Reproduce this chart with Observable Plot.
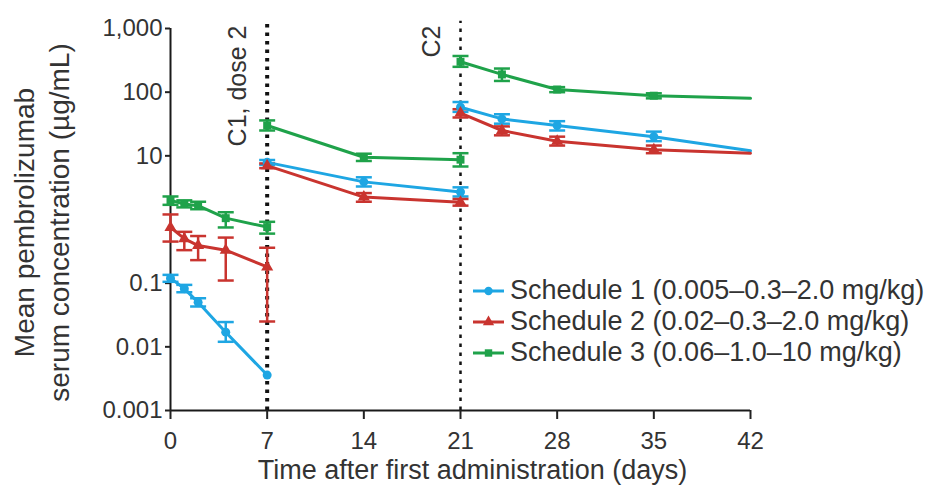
<!DOCTYPE html>
<html><head><meta charset="utf-8">
<script src="https://cdn.jsdelivr.net/npm/d3@7"></script>
<script src="https://cdn.jsdelivr.net/npm/@observablehq/plot@0.6"></script>
<style>
html,body{margin:0;padding:0;background:#fff;}
#wrap{position:relative;width:939px;height:495px;font-family:"Liberation Sans",Arial,sans-serif;}
#legend{position:absolute;left:472px;top:275px;}
.row{display:flex;align-items:center;height:31px;font-size:27px;color:#333;white-space:nowrap;}
.row svg{margin-right:5px;}
</style></head><body><div id="wrap"><div id="legend"></div></div>
<script>
// ---- data ----
const days    = [0, 1, 2, 4, 7,   7, 14, 21,   21, 24, 28, 35, 42];
const segment = [1, 1, 1, 1, 1,   2, 2, 2,     3, 3, 3, 3, 3];

const seriesNames = [
  "Schedule 1 (0.005–0.3–2.0 mg/kg)",
  "Schedule 2 (0.02–0.3–2.0 mg/kg)",
  "Schedule 3 (0.06–1.0–10 mg/kg)"
];

const s1Mean = [0.12, 0.082, 0.050, 0.017, 0.0036,   7.9, 3.9, 2.7,   58, 38, 30, 20, 12];
const s1Lo   = [0.105, 0.072, 0.043, 0.012, null,    7.2, 3.3, 2.3,   49, 32, 25, 17, null];
const s1Hi   = [0.135, 0.094, 0.058, 0.0245, null,   8.6, 4.6, 3.2,   70, 45, 35, 24, null];

const s2Mean = [0.75, 0.50, 0.39, 0.33, 0.18,   7.0, 2.25, 1.87,   47, 25, 17, 12.5, 11];
const s2Lo   = [0.45, 0.33, 0.23, 0.11, 0.025,  6.4, 1.9, 1.65,    40, 21, 14.5, 11, null];
const s2Hi   = [1.2, 0.64, 0.55, 0.52, 0.36,    7.6, 2.6, 2.1,     54, 29, 20, 14.5, null];

const s3Mean = [2.0, 1.75, 1.65, 1.05, 0.76,   30, 9.5, 8.7,   300, 190, 110, 88, 80];
const s3Lo   = [1.7, 1.55, 1.45, 0.75, 0.6,    25, 8.3, 6.8,   250, 150, 100, 80, null];
const s3Hi   = [2.3, 2.0, 1.9, 1.3, 0.92,      36, 10.8, 11,   370, 235, 120, 96, null];

const xTicks = [0, 7, 14, 21, 28, 35, 42];
const yTicks = [0.001, 0.01, 0.1, 10, 100, 1000];
const yTickLabels = ["0.001", "0.01", "0.1", "10", "100", "1,000"];
const doseDays = [7, 21];
const doseLabels = ["C1, dose 2", "C2"];
const xTitle = "Time after first administration (days)";
const yTitle = "Mean pembrolizumab\nserum concentration (µg/mL)";

const colors = ["#1ea6e3", "#c9342f", "#1fa24a"];
const symbols = ["circle", "triangle", "square"];

// ---- build table ----
const rows = [];
[[s1Mean, s1Lo, s1Hi], [s2Mean, s2Lo, s2Hi], [s3Mean, s3Lo, s3Hi]].forEach(([m, lo, hi], k) => {
  days.forEach((d, i) => rows.push({series: seriesNames[k], day: d, seg: segment[i], mean: m[i], lo: lo[i], hi: hi[i]}));
});
const errRows = rows.filter(d => d.lo != null);
const markRows = rows.filter(d => d.day < 42);
const annots = doseDays.map((d, i) => ({day: d, label: doseLabels[i]}));

const capSymbol = {draw(ctx, size) { const w = Math.sqrt(size / Math.PI); ctx.moveTo(-w, 0); ctx.lineTo(w, 0); }};

const font = "Liberation Sans, Arial, sans-serif";
const chart = Plot.plot({
  width: 939, height: 495,
  marginLeft: 170, marginRight: 189, marginTop: 28, marginBottom: 85,
  style: {fontFamily: font, fontSize: "24px", color: "#222", background: "#fff"},
  x: {domain: [0, 42]},
  y: {type: "log", domain: [0.001, 1000]},
  color: {domain: seriesNames, range: colors},
  symbol: {domain: seriesNames, range: symbols},
  marks: [
    Plot.ruleX([doseDays[0]], {y1: 0.001, y2: 1300, stroke: "#111", strokeWidth: 4, strokeDasharray: "3.5,5"}),
    Plot.ruleX([doseDays[1]], {y1: 0.001, y2: 1300, stroke: "#111", strokeWidth: 2.5, strokeDasharray: "3.5,5.5"}),
    Plot.ruleY([0.001], {x1: 0, x2: 42, stroke: "#1a1a1a", strokeWidth: 2}),
    Plot.ruleX([0], {y1: 0.001, y2: 1000, stroke: "#1a1a1a", strokeWidth: 2}),
    Plot.axisX({ticks: xTicks, tickSize: 9, tickPadding: 12, tickFormat: d => String(d), label: null, fontSize: 24, fill: "#333", strokeWidth: 2}),
    Plot.axisY({ticks: yTicks, tickSize: 5, tickPadding: 3, tickFormat: v => yTickLabels[yTicks.indexOf(v)], label: null, fontSize: 24, fill: "#333", strokeWidth: 2}),
    Plot.ruleX(errRows, {x: "day", y1: "lo", y2: "hi", stroke: "series", strokeWidth: 2.5}),
    Plot.dot(errRows, {x: "day", y: "lo", symbol: capSymbol, r: 8, stroke: "series", strokeWidth: 2.5}),
    Plot.dot(errRows, {x: "day", y: "hi", symbol: capSymbol, r: 8, stroke: "series", strokeWidth: 2.5}),
    Plot.line(rows, {x: "day", y: "mean", z: d => d.series + d.seg, stroke: "series", strokeWidth: 3}),
    Plot.dot(markRows, {x: "day", y: "mean", symbol: "series", fill: "series", r: 4.5}),
    Plot.text(annots, {x: "day", frameAnchor: "top", text: "label", rotate: -90, textAnchor: "end", lineAnchor: "middle", dx: -29, dy: -3, fontSize: 25, fill: "#333"}),
    Plot.text([xTitle], {frameAnchor: "bottom", text: d => d, textAnchor: "middle", lineAnchor: "middle", dx: 12, dy: 60, fontSize: 27, fill: "#333"}),
    Plot.text([yTitle], {frameAnchor: "left", text: d => d, rotate: -90, textAnchor: "middle", lineAnchor: "middle", lineHeight: 1.25, dx: -130, dy: 3, fontSize: 28, fill: "#333"})
  ]
});
document.getElementById("wrap").prepend(chart);

// ---- legend ----
const legend = document.getElementById("legend");
seriesNames.forEach((name, i) => {
  const row = document.createElement("div");
  row.className = "row";
  const sym = d3.symbol(i === 0 ? d3.symbolCircle : i === 1 ? d3.symbolTriangle : d3.symbolSquare, 55)();
  row.innerHTML = `<svg width="33" height="20"><line x1="1" x2="32" y1="10" y2="10" stroke="${colors[i]}" stroke-width="3"/><path d="${sym}" transform="translate(16.5,10)" fill="${colors[i]}"/></svg><span>${name}</span>`;
  legend.appendChild(row);
});
</script>
</body></html>
